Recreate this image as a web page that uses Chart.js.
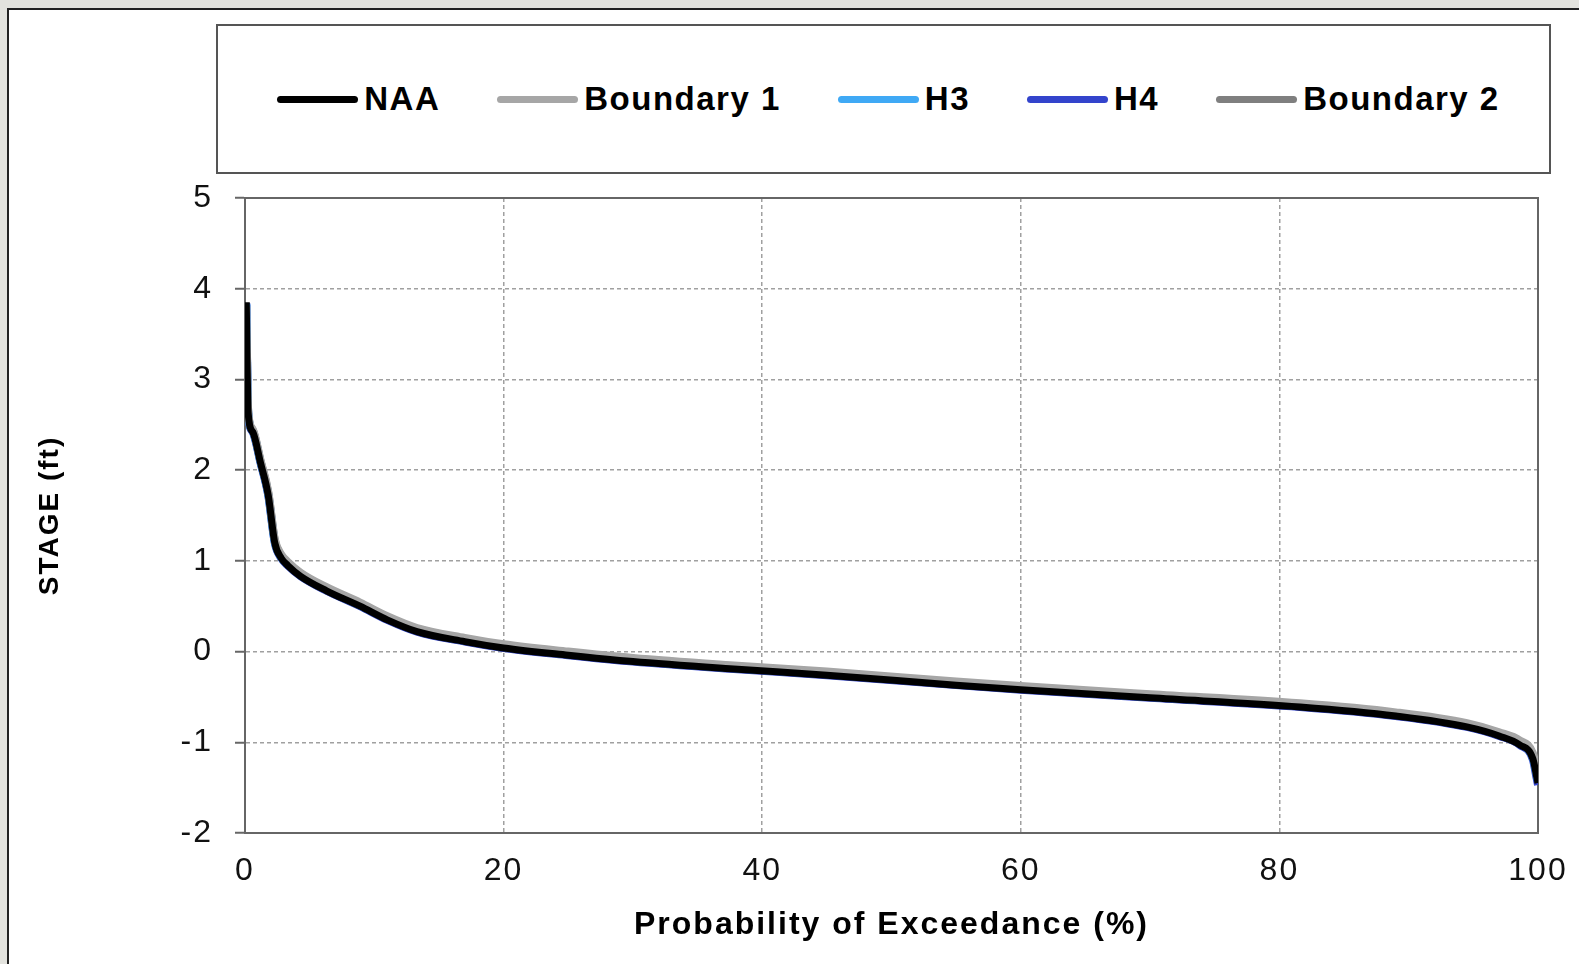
<!DOCTYPE html>
<html lang="en">
  <head>
    <meta charset="UTF-8" />
    <title>Stage Exceedance</title>
    <script src="https://cdn.jsdelivr.net/npm/chart.js"></script>
    <style>
      html, body { margin: 0; padding: 0; }
      body {
        width: 1579px; height: 964px; overflow: hidden; position: relative;
        background: #e3e3de; font-family: "Liberation Sans", Arial, sans-serif;
      }
      #panel {
        position: absolute; left: 7px; top: 8px; width: 1620px; height: 1000px;
        background: #fff; border: 2px solid #222; box-sizing: border-box;
      }
      #legend {
        position: absolute; left: 216px; top: 24px; width: 1335px; height: 150px;
        box-sizing: border-box; border: 2px solid #555; background: #fff;
        display: flex; align-items: center; justify-content: center;
        gap: 57px; padding-left: 10px;
      }
      .item { display: flex; align-items: center; }
      .swatch { width: 81px; height: 7px; border-radius: 4px; margin-right: 6px; }
      .label { font-weight: bold; font-size: 33px; letter-spacing: 1.5px; color: #000; }
      #chartBox { position: absolute; left: 9px; top: 150px; width: 1570px; height: 814px; }
    </style>
  </head>
  <body>
    <div id="panel"></div>
    <div id="legend"></div>
    <div id="chartBox"><canvas id="stageChart"></canvas></div>

    <script>
      // Probability of exceedance (%) for each read point
      const exceedance = [0.1, 0.15, 0.25, 0.6, 1.2, 1.8, 2.3, 2.8, 3.3, 4.3, 6.3, 8.9, 11, 13.3, 17, 20, 25, 30, 37.5, 45, 55, 60, 70, 81.6, 89, 94.5, 97, 98.6, 99.6, 99.9, 100];

      // Stage (ft) per series
      const naa =       [3.85, 3.30, 2.62, 2.42, 2.08, 1.72, 1.20, 1.03, 0.95, 0.83, 0.67, 0.50, 0.35, 0.22, 0.11, 0.04, -0.04, -0.11, -0.19, -0.26, -0.37, -0.42, -0.51, -0.61, -0.71, -0.83, -0.93, -1.03, -1.18, -1.38, -1.45];
      const boundary1 = [3.80, 3.28, 2.64, 2.45, 2.11, 1.76, 1.24, 1.07, 0.99, 0.87, 0.71, 0.54, 0.39, 0.26, 0.15, 0.08, 0.00, -0.07, -0.15, -0.22, -0.33, -0.38, -0.47, -0.57, -0.67, -0.79, -0.89, -0.98, -1.12, -1.30, -1.38];
      const h3 =        [3.83, 3.29, 2.63, 2.43, 2.09, 1.73, 1.21, 1.04, 0.96, 0.84, 0.68, 0.51, 0.36, 0.23, 0.12, 0.05, -0.03, -0.10, -0.18, -0.25, -0.36, -0.41, -0.50, -0.60, -0.70, -0.82, -0.92, -1.02, -1.17, -1.36, -1.43];
      const h4 =        [3.84, 3.30, 2.62, 2.42, 2.08, 1.72, 1.20, 1.03, 0.95, 0.83, 0.67, 0.50, 0.35, 0.22, 0.11, 0.04, -0.04, -0.11, -0.19, -0.26, -0.37, -0.42, -0.51, -0.61, -0.71, -0.83, -0.93, -1.03, -1.19, -1.40, -1.47];
      const boundary2 = [3.82, 3.29, 2.63, 2.44, 2.10, 1.75, 1.23, 1.06, 0.98, 0.86, 0.70, 0.53, 0.38, 0.25, 0.14, 0.07, -0.01, -0.08, -0.16, -0.23, -0.34, -0.39, -0.48, -0.58, -0.68, -0.80, -0.90, -0.99, -1.14, -1.33, -1.40];

      const seriesNames = ["NAA", "Boundary 1", "H3", "H4", "Boundary 2"];
      const seriesValues = [naa, boundary1, h3, h4, boundary2];
      const seriesColors = ["#000000", "#a6a6a6", "#3fa9f5", "#3344cc", "#7f7f7f"];
      const seriesWidths = [7, 8, 8, 8, 8];

      // Axis ranges
      const xMin = 0, xMax = 100, xStep = 20;
      const yMin = -2, yMax = 5, yStep = 1;

      const FONT = '"Liberation Sans", Arial, sans-serif';

      // HTML legend inside its framed box
      const legendDiv = document.getElementById("legend");
      seriesNames.forEach((name, i) => {
        const item = document.createElement("div");
        item.className = "item";
        item.innerHTML =
          '<span class="swatch" style="background:' + seriesColors[i] + '"></span>' +
          '<span class="label">' + name + "</span>";
        legendDiv.appendChild(item);
      });

      // Solid frame on top and right of the plot area
      const plotFrame = {
        id: "plotFrame",
        beforeDatasetsDraw(chart) {
          const { ctx, chartArea } = chart;
          ctx.save();
          ctx.strokeStyle = "#666";
          ctx.lineWidth = 2;
          ctx.strokeRect(chartArea.left, chartArea.top, chartArea.right - chartArea.left, chartArea.bottom - chartArea.top);
          ctx.restore();
        },
      };

      // The source picture has slightly wide lettering
      const wideText = {
        id: "wideText",
        beforeLayout(chart) { chart.ctx.letterSpacing = "2px"; },
        beforeDraw(chart) { chart.ctx.letterSpacing = "2px"; },
      };

      const ctx = document.getElementById("stageChart").getContext("2d");
      new Chart(ctx, {
        type: "line",
        data: {
          datasets: seriesNames.map((name, i) => ({
            label: name,
            data: exceedance.map((x, k) => ({ x: x, y: seriesValues[i][k] })),
            borderColor: seriesColors[i],
            backgroundColor: seriesColors[i],
            borderWidth: seriesWidths[i],
            pointRadius: 0,
            cubicInterpolationMode: "monotone",
            fill: false,
          })),
        },
        options: {
          responsive: true,
          maintainAspectRatio: false,
          animation: false,
          layout: { padding: { top: 48, right: 41, bottom: 0, left: 0 } },
          plugins: {
            legend: { display: false },
            tooltip: { enabled: false },
          },
          scales: {
            x: {
              type: "linear",
              min: xMin,
              max: xMax,
              afterFit: (scale) => {
                scale.height = 131;
                scale.paddingLeft = 0;
                scale.paddingRight = 0;
              },
              ticks: {
                stepSize: xStep,
                padding: 19,
                color: "#111",
                font: { family: FONT, size: 32 },
              },
              grid: { color: "#a0a0a0", lineWidth: 1.5, drawTicks: false },
              border: { color: "#666", width: 2, dash: [4, 3] },
              title: {
                display: true,
                text: "Probability of Exceedance (%)",
                color: "#000",
                font: { family: FONT, size: 32, weight: "bold" },
                padding: { top: 0, bottom: 20 },
              },
            },
            y: {
              min: yMin,
              max: yMax,
              afterFit: (scale) => {
                scale.width = 236;
                scale.paddingTop = 0;
                scale.paddingBottom = 0;
              },
              ticks: {
                stepSize: yStep,
                padding: 22,
                color: "#111",
                font: { family: FONT, size: 32 },
              },
              grid: {
                color: "#a0a0a0",
                lineWidth: 1.5,
                drawTicks: true,
                tickLength: 10,
                tickColor: "#666",
                tickWidth: 2,
                tickBorderDash: [],
              },
              border: { color: "#666", width: 2, dash: [4, 3] },
              title: {
                display: true,
                text: "STAGE (ft)",
                color: "#000",
                font: { family: FONT, size: 28, weight: "bold" },
                padding: { top: 24, bottom: 0 },
              },
            },
          },
        },
        plugins: [plotFrame, wideText],
      });
    </script>
  </body>
</html>
